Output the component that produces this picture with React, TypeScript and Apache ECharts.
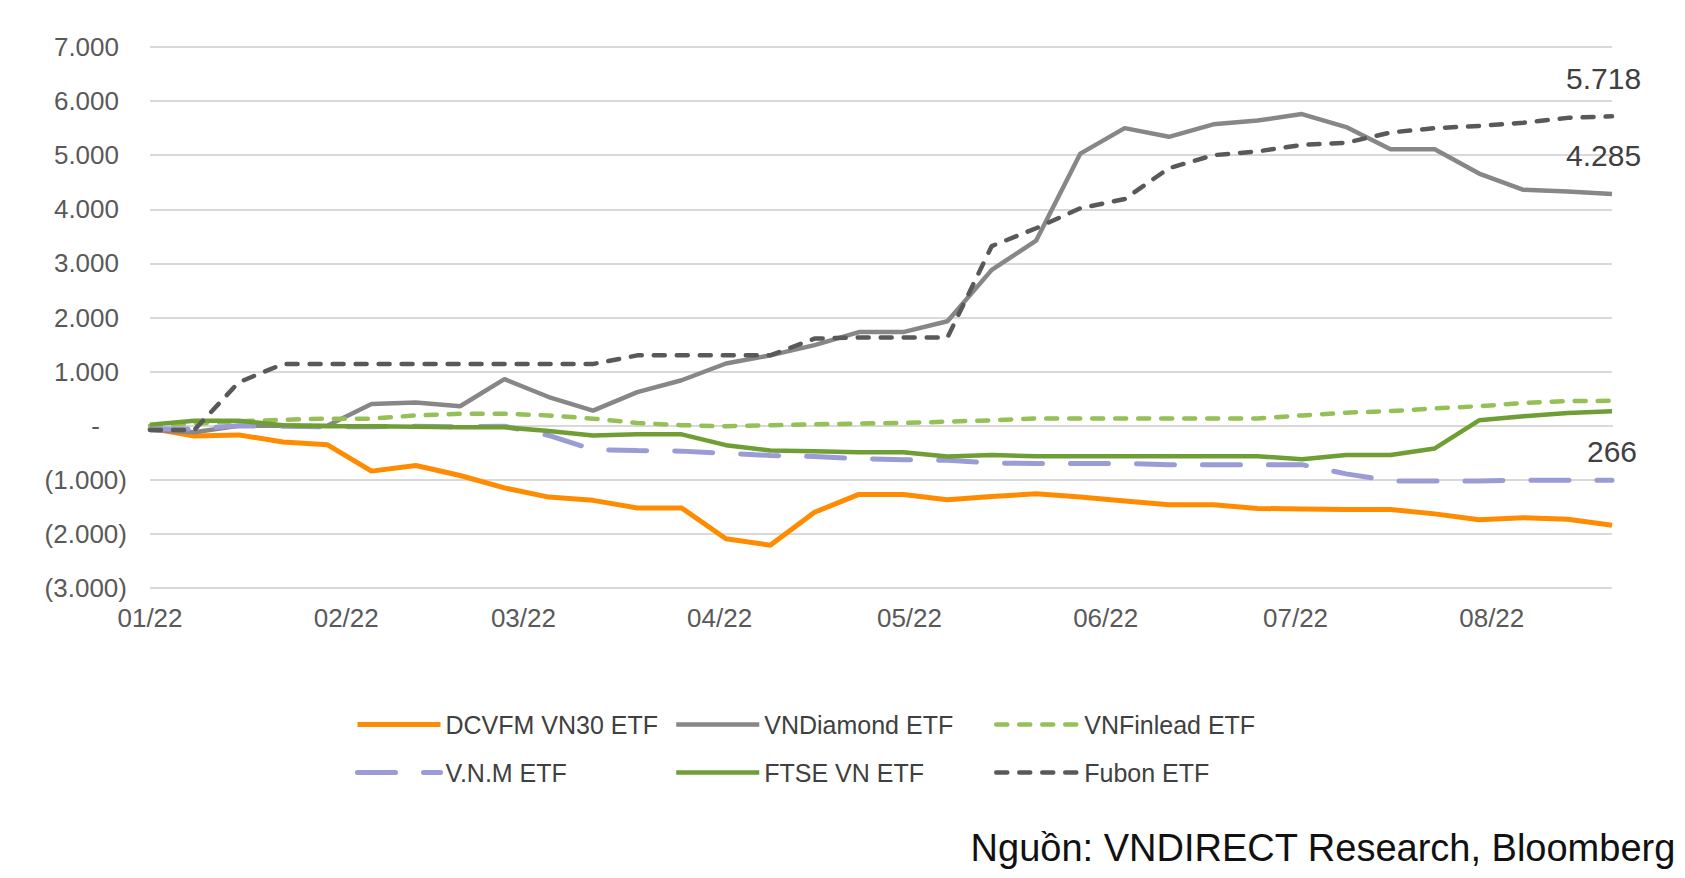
import React, { useEffect, useRef } from 'react';
import * as echarts from 'echarts';

const dates = [
  '2022-01-01', '2022-01-08', '2022-01-15', '2022-01-22', '2022-01-29',
  '2022-02-05', '2022-02-12', '2022-02-19', '2022-02-26',
  '2022-03-05', '2022-03-12', '2022-03-19', '2022-03-26',
  '2022-04-02', '2022-04-09', '2022-04-16', '2022-04-23', '2022-04-30',
  '2022-05-07', '2022-05-14', '2022-05-21', '2022-05-28',
  '2022-06-04', '2022-06-11', '2022-06-18', '2022-06-25',
  '2022-07-02', '2022-07-09', '2022-07-16', '2022-07-23', '2022-07-30',
  '2022-08-06', '2022-08-13', '2022-08-20',
];

const dcvfm = [-50, -190, -170, -300, -350, -840, -735, -920, -1150, -1320, -1380, -1520, -1520, -2090, -2210, -1600, -1270, -1270, -1370, -1310, -1260, -1320, -1390, -1460, -1460, -1530, -1540, -1550, -1550, -1630, -1740, -1700, -1730, -1840];
const vndiamond = [-80, -120, 0, 0, 0, 400, 430, 360, 860, 530, 280, 620, 840, 1150, 1300, 1490, 1730, 1730, 1930, 2880, 3420, 5030, 5500, 5340, 5570, 5640, 5760, 5520, 5110, 5110, 4660, 4360, 4330, 4285];
const vnfinlead = [0, 40, 80, 110, 130, 130, 190, 220, 220, 190, 130, 50, 10, -10, 10, 25, 40, 50, 75, 100, 135, 135, 135, 135, 135, 135, 190, 240, 270, 320, 360, 420, 455, 460];
const vnm = [-60, -60, 0, -10, -20, -20, -10, -20, -10, -180, -440, -460, -470, -510, -550, -570, -610, -630, -640, -690, -700, -700, -700, -720, -720, -720, -720, -890, -1020, -1020, -1020, -1010, -1010, -1010];
const ftse = [20, 90, 90, 10, -10, -10, -20, -30, -30, -100, -180, -160, -160, -360, -460, -470, -490, -490, -570, -540, -565, -565, -565, -565, -565, -565, -620, -540, -540, -420, 100, 175, 235, 266];
const fubon = [-80, -80, 800, 1140, 1140, 1140, 1140, 1140, 1140, 1140, 1140, 1300, 1300, 1300, 1300, 1610, 1630, 1630, 1630, 3320, 3650, 4020, 4190, 4760, 5000, 5070, 5190, 5230, 5420, 5500, 5540, 5600, 5690, 5718];

const names = ['DCVFM VN30 ETF', 'VNDiamond ETF', 'VNFinlead ETF', 'V.N.M ETF', 'FTSE VN ETF', 'Fubon ETF'];
const endLabels: Record<string, string> = { 'Fubon ETF': '5.718', 'VNDiamond ETF': '4.285', 'FTSE VN ETF': '266' };
const yMin = -3000;
const yMax = 7000;
const yStep = 1000;
const sourceText = 'Nguồn: VNDIRECT Research, Bloomberg';

const FONT = "'Liberation Sans', Arial, sans-serif";

function fmtThousands(n: number): string {
  const s = String(Math.round(Math.abs(n)));
  return s.replace(/\B(?=(\d{3})+(?!\d))/g, '.');
}

export default function App() {
  const ref = useRef<HTMLDivElement>(null);
  useEffect(() => {
    document.body.style.margin = '0';
    const chart = echarts.init(ref.current!, null, { renderer: 'svg' });
    const pair = (arr: number[]) => arr.map((v, i) => [dates[i], v]);

    const styles: any[] = [
      { color: '#FF8C00', width: 5, type: 'solid' },
      { color: '#878787', width: 4.5, type: 'solid' },
      { color: '#95C055', width: 4.5, type: [11, 12], cap: 'round' },
      { color: '#9B9BD6', width: 5, type: [38, 28], cap: 'round' },
      { color: '#6E9E34', width: 4.5, type: 'solid' },
      { color: '#595959', width: 4.5, type: [11, 12], cap: 'round' },
    ];
    const dataSets = [dcvfm, vndiamond, vnfinlead, vnm, ftse, fubon];
    const labelOffsets: Record<string, number[]> = {
      'Fubon ETF': [-46, -38],
      'VNDiamond ETF': [-46, -38],
      'FTSE VN ETF': [-25, 40],
    };

    const series = names.map((name, i) => ({
      name,
      type: 'line',
      data: pair(dataSets[i]),
      showSymbol: false,
      symbol: 'none',
      lineStyle: styles[i],
      itemStyle: { color: styles[i].color },
      endLabel: endLabels[name]
        ? {
            show: true,
            formatter: endLabels[name],
            distance: 0,
            offset: labelOffsets[name],
            fontSize: 30,
            color: '#404040',
            fontFamily: FONT,
          }
        : { show: false },
      emphasis: { disabled: true },
      z: 2 + i,
    }));

    const legendPos = [
      [355, 712], [674, 712], [994, 712],
      [355, 760], [674, 760], [994, 760],
    ];
    const legends = names.map((name, i) => ({
      data: [name],
      left: legendPos[i][0],
      top: legendPos[i][1],
      padding: 0,
      itemWidth: 83,
      itemHeight: 14,
      itemGap: 0,
      selectedMode: false,
      itemStyle: { opacity: 0 },
      lineStyle: {
        width: styles[i].width,
        type: styles[i].type,
        cap: styles[i].cap || 'butt',
        color: styles[i].color,
      },
      textStyle: { fontSize: 25, color: '#404040', fontFamily: FONT },
    }));

    const option: any = {
      animation: false,
      backgroundColor: '#ffffff',
      textStyle: { fontFamily: FONT },
      grid: { left: 150, right: 73, top: 47, bottom: 290, containLabel: false },
      legend: legends,
      xAxis: {
        type: 'time',
        min: dates[0],
        max: dates[dates.length - 1],
        minInterval: 28 * 86400000,
        maxInterval: 31 * 86400000,
        axisLine: { show: true, lineStyle: { color: '#d9d9d9', width: 2 } },
        axisTick: { show: false },
        splitLine: { show: false },
        axisLabel: {
          fontSize: 26,
          color: '#595959',
          fontFamily: FONT,
          margin: 17,
          showMinLabel: true,
          formatter: (v: number) => {
            const d = new Date(v);
            const m = String(d.getMonth() + 1).padStart(2, '0');
            const y = String(d.getFullYear()).slice(2);
            return m + '/' + y;
          },
        },
      },
      yAxis: {
        type: 'value',
        min: yMin,
        max: yMax,
        interval: yStep,
        axisLine: { show: false },
        axisTick: { show: false },
        splitLine: { show: true, lineStyle: { color: '#d9d9d9', width: 2 } },
        axisLabel: {
          fontSize: 26,
          color: '#595959',
          fontFamily: FONT,
          margin: 23,
          formatter: (v: number) => {
            if (v === 0) return '{z|-}';
            if (v < 0) return '(' + fmtThousands(v) + ')';
            return '{p|' + fmtThousands(v) + '}';
          },
          rich: {
            p: { fontSize: 26, color: '#595959', fontFamily: FONT, padding: [0, 8, 0, 0] },
            z: { fontSize: 26, color: '#595959', fontFamily: FONT, padding: [0, 27, 0, 0] },
          },
        },
      },
      graphic: [
        {
          type: 'text',
          right: 9,
          top: 829,
          style: {
            text: sourceText,
            fontSize: 38,
            fill: '#111111',
            fontFamily: FONT,
          },
        },
      ],
      series,
    };
    chart.setOption(option);
    return () => chart.dispose();
  }, []);
  return <div ref={ref} style={{ width: 1685, height: 878 }} />;
}
